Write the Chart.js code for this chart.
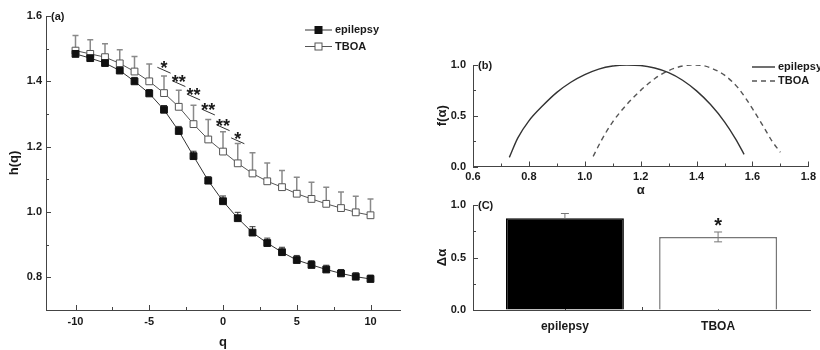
<!DOCTYPE html>
<html>
<head>
<meta charset="utf-8">
<script src="https://cdn.jsdelivr.net/npm/chart.js@4.4.0/dist/chart.umd.min.js"></script>
<style>
  body { margin: 0; background: #fff; }
  canvas { position: absolute; }
</style>
</head>
<body>
<canvas id="chartA" width="420" height="350" style="left:0;top:0"></canvas>
<canvas id="chartB" width="390" height="200" style="left:430px;top:0"></canvas>
<canvas id="chartC" width="390" height="160" style="left:430px;top:190px"></canvas>
<script>
// (a) generalized Hurst exponent h(q)
const qValues = [-10, -9, -8, -7, -6, -5, -4, -3, -2, -1, 0, 1, 2, 3, 4, 5, 6, 7, 8, 9, 10];
const epilepsyH = [1.484, 1.471, 1.456, 1.433, 1.400, 1.363, 1.313, 1.248, 1.171, 1.096, 1.033, 0.981, 0.937, 0.905, 0.877, 0.853, 0.838, 0.824, 0.812, 0.802, 0.795];
const epilepsyErr = [0.010, 0.010, 0.010, 0.012, 0.012, 0.012, 0.013, 0.014, 0.015, 0.012, 0.016, 0.018, 0.018, 0.015, 0.015, 0.014, 0.013, 0.013, 0.012, 0.012, 0.012];
const tboaH = [1.494, 1.484, 1.474, 1.455, 1.430, 1.400, 1.364, 1.322, 1.269, 1.222, 1.185, 1.149, 1.118, 1.094, 1.076, 1.056, 1.040, 1.025, 1.012, 0.999, 0.990];
const tboaErr = [0.046, 0.043, 0.041, 0.042, 0.046, 0.053, 0.052, 0.051, 0.058, 0.061, 0.061, 0.061, 0.063, 0.056, 0.051, 0.050, 0.051, 0.051, 0.049, 0.049, 0.050];
const sigQ = [-4, -3, -2, -1, 0, 1];
const sigMarks = ['*', '**', '**', '**', '**', '*'];
const sigLevel = [1.434, 1.393, 1.352, 1.306, 1.258, 1.218];
const qTicks = [-10, -5, 0, 5, 10];
const hTicks = [0.8, 1.0, 1.2, 1.4, 1.6];

// (b) singularity spectrum f(alpha)
const epilepsyAlpha = [0.73, 0.76, 0.80, 0.85, 0.90, 0.95, 1.00, 1.05, 1.10, 1.15, 1.20, 1.25, 1.30, 1.35, 1.40, 1.45, 1.50, 1.54, 1.57];
const epilepsyF = [0.09, 0.28, 0.45, 0.60, 0.73, 0.83, 0.905, 0.96, 0.99, 1.0, 0.995, 0.97, 0.925, 0.85, 0.745, 0.61, 0.44, 0.27, 0.12];
const tboaAlpha = [1.03, 1.06, 1.10, 1.15, 1.20, 1.25, 1.30, 1.35, 1.38, 1.42, 1.46, 1.50, 1.55, 1.60, 1.64, 1.67, 1.70];
const tboaF = [0.10, 0.26, 0.44, 0.61, 0.75, 0.865, 0.945, 0.99, 1.0, 0.995, 0.96, 0.90, 0.77, 0.57, 0.39, 0.25, 0.14];
const alphaTicks = [0.6, 0.8, 1.0, 1.2, 1.4, 1.6, 1.8];
const fTicks = [0, 0.5, 1.0];

// (c) spectrum width
const groups = ['epilepsy', 'TBOA'];
const deltaAlpha = [0.873, 0.696];
const deltaErrUp = [0.046, 0.047];
const deltaErrDown = [0, 0.047];
const deltaSig = ['', '*'];
const dTicks = [0, 0.5, 1.0];

const FONT = '"Liberation Sans", Arial, sans-serif';
const INK = '#1a1a1a';
const AXIS = '#444';
const TICK_FONT = { family: FONT, size: 11, weight: 'bold' };
const TITLE_FONT = { family: FONT, size: 13, weight: 'bold' };

// ticks pointing into the plot, minor ticks halfway between majors
const inTicks = {
  id: 'inTicks',
  beforeDatasetsDraw(chart, args, opts) {
    const { ctx, chartArea } = chart;
    ctx.save();
    ctx.strokeStyle = AXIS;
    ctx.lineWidth = 1;
    Object.values(chart.scales).forEach((s) => {
      const vals = s.ticks.map((t) => t.value);
      const minors = [];
      for (let i = 0; i < vals.length - 1; i++) minors.push((vals[i] + vals[i + 1]) / 2);
      if (opts.ends !== false && vals.length > 1) {
        const st = vals[1] - vals[0];
        minors.push(vals[0] - st / 2, vals[vals.length - 1] + st / 2);
      }
      const draw = (v, len) => {
        if (v < s.min - 1e-9 || v > s.max + 1e-9) return;
        const p = Math.round(s.getPixelForValue(v)) + 0.5;
        ctx.beginPath();
        if (s.isHorizontal()) {
          ctx.moveTo(p, chartArea.bottom);
          ctx.lineTo(p, chartArea.bottom - len);
        } else {
          ctx.moveTo(chartArea.left, p);
          ctx.lineTo(chartArea.left + len, p);
        }
        ctx.stroke();
      };
      vals.forEach((v) => draw(v, 5));
      minors.forEach((v) => draw(v, 3));
    });
    ctx.restore();
  },
};

function drawErrors(chart) {
  const { ctx, scales: { x, y } } = chart;
  chart.data.datasets.forEach((ds) => {
    if (!ds.errUp) return;
    ctx.save();
    ctx.lineWidth = ds.errWidth || 1;
    ds.data.forEach((pt, i) => {
      ctx.strokeStyle = Array.isArray(ds.errColor) ? ds.errColor[i] : ds.errColor;
      const px = x.getPixelForValue(pt.x);
      const top = y.getPixelForValue(pt.y + ds.errUp[i]);
      const bot = y.getPixelForValue(pt.y - (ds.errDown ? ds.errDown[i] : 0));
      const cap = ds.errCap || 3;
      ctx.beginPath();
      ctx.moveTo(px, bot);
      ctx.lineTo(px, top);
      ctx.moveTo(px - cap, top);
      ctx.lineTo(px + cap, top);
      if (ds.errDown && ds.errDown[i]) {
        ctx.moveTo(px - cap, bot);
        ctx.lineTo(px + cap, bot);
      }
      ctx.stroke();
      if (ds.marks && ds.marks[i]) {
        ctx.fillStyle = INK;
        ctx.font = 'bold 20px ' + FONT;
        ctx.textAlign = 'center';
        ctx.textBaseline = 'alphabetic';
        ctx.fillText(ds.marks[i], px, top);
      }
    });
    ctx.restore();
  });
}

const errorBars = {
  id: 'errorBars',
  beforeDatasetsDraw(chart, args, opts) { if (opts.under) drawErrors(chart); },
  afterDatasetsDraw(chart, args, opts) { if (!opts.under) drawErrors(chart); },
};

const sigLines = {
  id: 'sigLines',
  afterDatasetsDraw(chart, args, opts) {
    if (!opts.q) return;
    const { ctx, scales: { x, y } } = chart;
    ctx.save();
    ctx.strokeStyle = '#333';
    ctx.lineWidth = 1;
    ctx.fillStyle = INK;
    ctx.font = 'bold 18px ' + FONT;
    ctx.textAlign = 'center';
    ctx.textBaseline = 'alphabetic';
    opts.q.forEach((q, i) => {
      const lv = opts.level[i];
      ctx.beginPath();
      ctx.moveTo(x.getPixelForValue(q - 0.45), y.getPixelForValue(lv + 0.009));
      ctx.lineTo(x.getPixelForValue(q + 0.45), y.getPixelForValue(lv - 0.009));
      ctx.stroke();
      ctx.fillText(opts.marks[i], x.getPixelForValue(q), y.getPixelForValue(lv) + 4);
    });
    ctx.restore();
  },
};

const sampleLegend = {
  id: 'sampleLegend',
  afterDraw(chart, args, opts) {
    if (!opts.x) return;
    const ctx = chart.ctx;
    chart.data.datasets.forEach((ds, i) => {
      const yy = opts.y + i * opts.gap;
      ctx.save();
      ctx.strokeStyle = ds.borderColor;
      ctx.lineWidth = ds.borderWidth;
      ctx.setLineDash(ds.borderDash || []);
      ctx.beginPath();
      ctx.moveTo(opts.x, yy);
      ctx.lineTo(opts.x + opts.len, yy);
      ctx.stroke();
      ctx.setLineDash([]);
      if (ds.pointRadius) {
        const m = opts.x + opts.len / 2;
        ctx.fillStyle = ds.pointBackgroundColor;
        ctx.strokeStyle = ds.pointBorderColor;
        ctx.lineWidth = 1;
        ctx.fillRect(m - 3.5, yy - 3.5, 7, 7);
        ctx.strokeRect(m - 3.5, yy - 3.5, 7, 7);
      }
      ctx.fillStyle = INK;
      ctx.font = 'bold 11px ' + FONT;
      ctx.textAlign = 'left';
      ctx.textBaseline = 'middle';
      ctx.fillText(ds.label, opts.x + opts.len + 3, yy);
      ctx.restore();
    });
  },
};

const panelTag = {
  id: 'panelTag',
  afterDraw(chart, args, opts) {
    const { ctx, chartArea } = chart;
    ctx.save();
    ctx.fillStyle = INK;
    ctx.font = 'bold 11px ' + FONT;
    ctx.textBaseline = 'middle';
    ctx.fillText(opts.text, chartArea.left + 5, chartArea.top + 1);
    ctx.restore();
  },
};

function axis(ticks, label, fit, extra) {
  return Object.assign({
    type: 'linear',
    afterBuildTicks: (s) => { s.ticks = ticks.map((v) => ({ value: v })); },
    ticks: { font: TICK_FONT, color: INK, padding: 4 },
    grid: { drawOnChartArea: false, drawTicks: false },
    border: { color: AXIS, width: 1 },
    title: { display: !!label, text: label, color: INK, font: TITLE_FONT, padding: { top: 7, bottom: 0 } },
    afterFit: fit,
  }, extra);
}

const pts = (xs, ys) => xs.map((v, i) => ({ x: v, y: ys[i] }));

// ---- (a)
new Chart(document.getElementById('chartA'), {
  type: 'line',
  data: {
    datasets: [
      {
        label: 'epilepsy',
        data: pts(qValues, epilepsyH),
        borderColor: '#333', borderWidth: 1,
        pointStyle: 'rect', pointRadius: 4.8, pointBorderWidth: 1,
        pointBackgroundColor: '#111', pointBorderColor: '#111',
        errUp: epilepsyErr, errColor: '#333', errWidth: 1, errCap: 3,
      },
      {
        label: 'TBOA',
        data: pts(qValues, tboaH),
        borderColor: '#555', borderWidth: 1,
        pointStyle: 'rect', pointRadius: 4.8, pointBorderWidth: 1,
        pointBackgroundColor: '#fff', pointBorderColor: '#555',
        errUp: tboaErr, errColor: '#8a8a8a', errWidth: 1.5, errCap: 3,
      },
    ],
  },
  plugins: [inTicks, errorBars, sigLines, sampleLegend, panelTag],
  options: {
    responsive: false,
    animation: false,
    layout: { padding: { left: 0, top: 16, right: 20, bottom: 0 } },
    scales: {
      x: axis(qTicks, 'q', (s) => { s.height = 40; }, { min: -12, max: 12, ticks: { font: TICK_FONT, color: INK, padding: 5 }, title: { display: true, text: 'q', color: INK, font: TITLE_FONT, padding: { top: 0, bottom: 0 } } }),
      y: axis(hTicks, 'h(q)', (s) => { s.width = 46; }, { min: 0.7, max: 1.6, ticks: { font: TICK_FONT, color: INK, padding: 4, callback: (v) => v.toFixed(1) } }),
    },
    plugins: {
      legend: { display: false },
      tooltip: { enabled: false },
      errorBars: { under: true },
      sigLines: { q: sigQ, marks: sigMarks, level: sigLevel },
      sampleLegend: { x: 305, y: 30, gap: 16.5, len: 27 },
      panelTag: { text: '(a)' },
    },
  },
});

// ---- (b)
new Chart(document.getElementById('chartB'), {
  type: 'line',
  data: {
    datasets: [
      {
        label: 'epilepsy',
        data: pts(epilepsyAlpha, epilepsyF),
        borderColor: '#333', borderWidth: 1.4, pointRadius: 0, cubicInterpolationMode: 'monotone',
      },
      {
        label: 'TBOA',
        data: pts(tboaAlpha, tboaF),
        borderColor: '#555', borderWidth: 1.4, borderDash: [5, 4], pointRadius: 0, cubicInterpolationMode: 'monotone',
      },
    ],
  },
  plugins: [inTicks, sampleLegend, panelTag],
  options: {
    responsive: false,
    animation: false,
    layout: { padding: { left: 0, top: 65, right: 10, bottom: 0 } },
    scales: {
      x: axis(alphaTicks, 'α', (s) => { s.height = 33.5; }, { min: 0.6, max: 1.8, ticks: { font: TICK_FONT, color: INK, padding: 4, callback: (v) => v.toFixed(1) }, title: { display: true, text: 'α', color: INK, font: TITLE_FONT, padding: { top: 0, bottom: 2 } } }),
      y: axis(fTicks, 'f(α)', (s) => { s.width = 43; }, { min: 0, max: 1, ticks: { font: TICK_FONT, color: INK, padding: 7, callback: (v) => v.toFixed(1) }, title: { display: true, text: 'f(α)', color: INK, font: TITLE_FONT, padding: { top: 5, bottom: 0 } } }),
    },
    plugins: {
      legend: { display: false },
      tooltip: { enabled: false },
      sampleLegend: { x: 322, y: 67, gap: 14, len: 23 },
      panelTag: { text: '(b)' },
    },
  },
});

// ---- (c)
new Chart(document.getElementById('chartC'), {
  type: 'bar',
  data: {
    datasets: [
      {
        data: deltaAlpha.map((v, i) => ({ x: i + 1, y: v })),
        backgroundColor: ['#000', '#fff'],
        borderColor: ['#000', '#777'],
        borderWidth: 1.5,
        barPercentage: 0.77,
        categoryPercentage: 1,
        errUp: deltaErrUp, errDown: deltaErrDown, errColor: ['#777', '#777'], errWidth: 1, errCap: 4,
        marks: deltaSig,
      },
    ],
  },
  plugins: [inTicks, errorBars, panelTag],
  options: {
    responsive: false,
    animation: false,
    layout: { padding: { left: 0, top: 15, right: 10, bottom: 0 } },
    scales: {
      x: axis([1, 2], '', (s) => { s.height = 40; }, { min: 0.4, max: 2.6, offset: false, ticks: { font: { family: FONT, size: 12, weight: 'bold' }, color: INK, padding: 9, callback: (v) => groups[v - 1] } }),
      y: axis(dTicks, 'Δα', (s) => { s.width = 43; }, { min: 0, max: 1, ticks: { font: TICK_FONT, color: INK, padding: 7, callback: (v) => v.toFixed(1) }, title: { display: true, text: 'Δα', color: INK, font: TITLE_FONT, padding: { top: 5, bottom: 0 } } }),
    },
    plugins: {
      legend: { display: false },
      tooltip: { enabled: false },
      errorBars: { under: false },
      inTicks: { ends: false },
      panelTag: { text: '(C)' },
    },
  },
});
</script>
</body>
</html>
